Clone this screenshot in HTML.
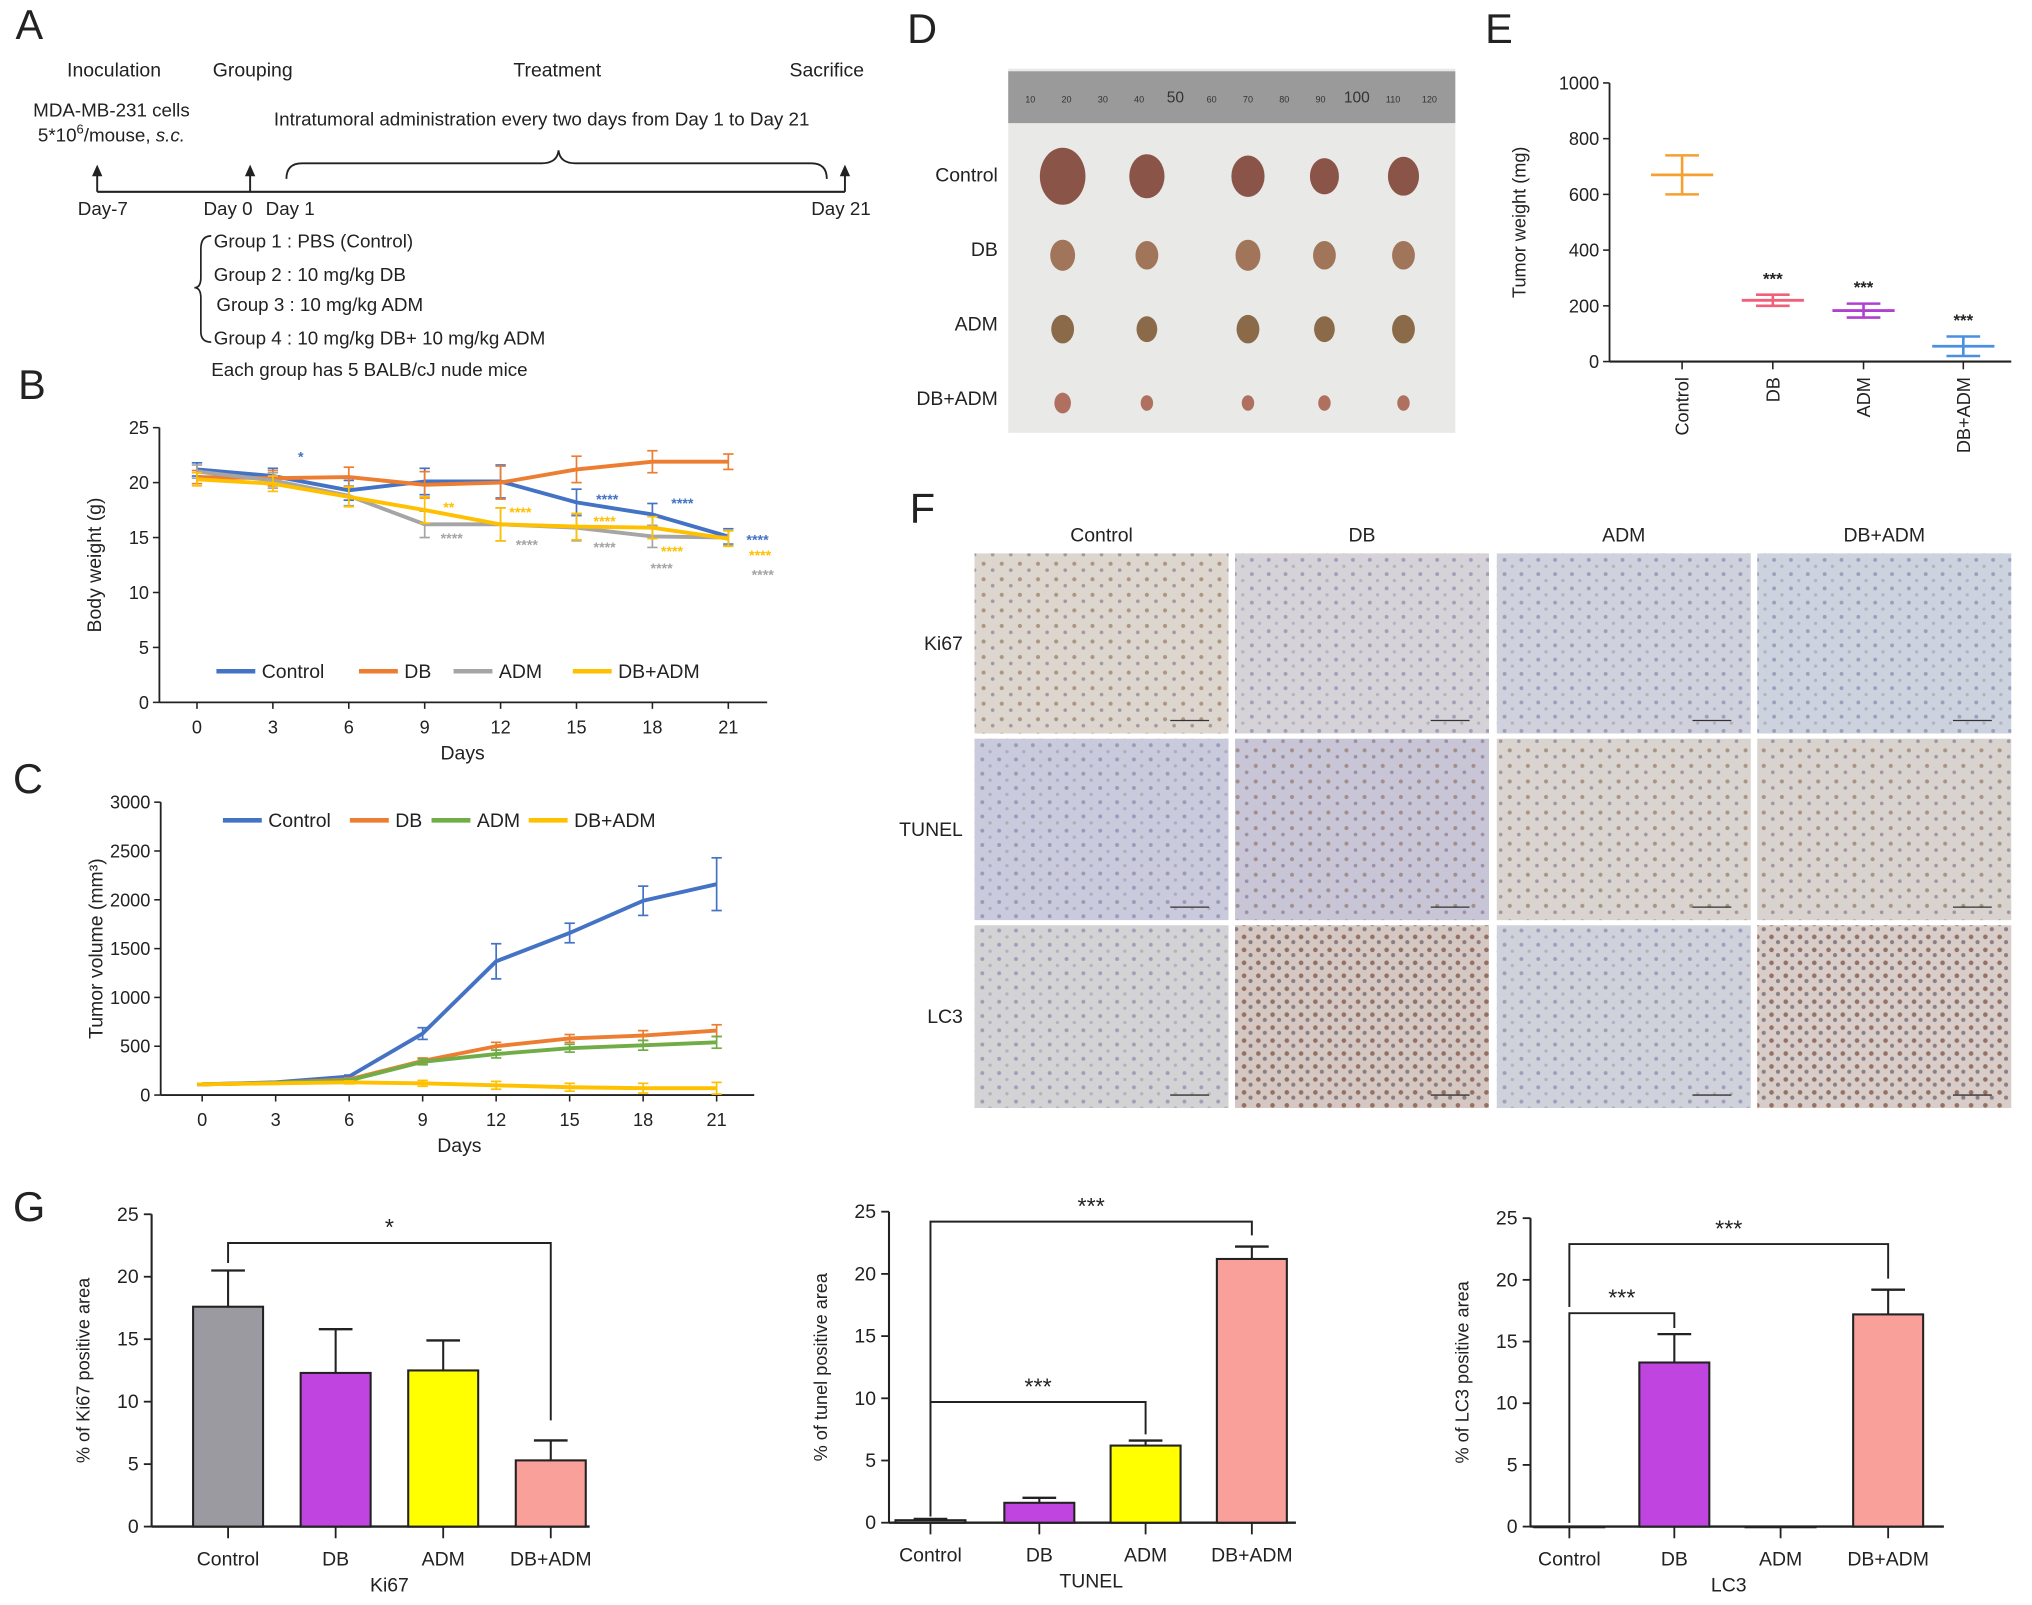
<!DOCTYPE html>
<html><head><meta charset="utf-8">
<style>
html,body{margin:0;padding:0;background:#fff;}
svg{display:block;font-family:"Liberation Sans",sans-serif;}
</style></head>
<body>
<svg id="fig" width="2032" height="1605" viewBox="0 0 1568 1238.5" preserveAspectRatio="none" xmlns="http://www.w3.org/2000/svg">
<defs>
<pattern id="dotsBrown" width="14" height="12" patternUnits="userSpaceOnUse"><circle cx="3" cy="3" r="1.6" fill="#8a6a50" opacity="0.6"/><circle cx="10" cy="8" r="1.4" fill="#6a5a70" opacity="0.5"/></pattern>
<pattern id="dotsBlue" width="13" height="11" patternUnits="userSpaceOnUse"><circle cx="4" cy="3" r="1.5" fill="#6a6a9a" opacity="0.5"/><circle cx="10" cy="8" r="1.3" fill="#8a7a9a" opacity="0.4"/></pattern>
<pattern id="dotsDark" width="11" height="10" patternUnits="userSpaceOnUse"><circle cx="3" cy="3" r="1.8" fill="#7a4a3a" opacity="0.7"/><circle cx="8" cy="7" r="1.6" fill="#5a4a5a" opacity="0.6"/></pattern>
</defs>
<g id="root"></g>
</svg>
<script>
// ---------- data ----------
const days = [0,3,6,9,12,15,18,21];
const groupsB = ["Control","DB","ADM","DB+ADM"];
const bwControl = [21.2,20.6,19.3,20.1,20.1,18.2,17.1,15.1];
const bwDB = [20.5,20.4,20.5,19.8,20.0,21.2,21.9,21.9];
const bwADM = [21.0,20.2,18.8,16.2,16.2,15.9,15.1,15.0];
const bwDBADM = [20.3,19.9,18.7,17.5,16.2,16.0,15.9,14.9];
const bwErr = [0.6,0.7,0.9,1.2,1.5,1.2,1.0,0.7];
const bwTicks = [0,5,10,15,20,25];
const tvControl = [110,130,190,630,1370,1660,1990,2160];
const tvDB = [110,125,160,350,500,580,610,660];
const tvADM = [110,125,150,340,420,480,510,540];
const tvDBADM = [110,120,130,120,100,80,70,70];
const tvErrControl = [10,10,15,60,180,100,150,270];
const tvErrOther = [10,10,15,30,40,40,50,60];
const tvTicks = [0,500,1000,1500,2000,2500,3000];
const twCats = ["Control","DB","ADM","DB+ADM"];
const twMeans = [670,220,183,55];
const twSd = [70,20,25,35];
const twTicks = [0,200,400,600,800,1000];
const gCats = ["Control","DB","ADM","DB+ADM"];
const ki67Vals = [17.6,12.3,12.5,5.3];
const ki67Err = [2.9,3.5,2.4,1.6];
const tunelVals = [0.2,1.6,6.2,21.2];
const tunelErr = [0.1,0.4,0.4,1.0];
const lc3Vals = [0,13.3,0,17.2];
const lc3Err = [0,2.3,0,2.0];
const gTicks = [0,5,10,15,20,25];

// ---------- helpers ----------
const NS="http://www.w3.org/2000/svg";
const root=document.getElementById('root');
function mk(tag,attrs,parent,text){const e=document.createElementNS(NS,tag);for(const k in attrs)e.setAttribute(k,attrs[k]);if(text!==undefined)e.textContent=text;(parent||root).appendChild(e);return e;}
function T(x,y,s,size,anchor,parent,extra){const e=mk('text',Object.assign({x:x,y:y,'font-size':size||14,'text-anchor':anchor||'start',fill:'#222'},extra||{}),parent,s);return e;}
function L(x1,y1,x2,y2,st,w,parent){return mk('line',{x1,y1,x2,y2,stroke:st||'#222','stroke-width':w||1.5},parent);}

// panel letters
[["A",12,30],["B",14,308],["C",10,612],["D",700,33],["E",1146,33],["F",702,403],["G",10,942]].forEach(p=>{
 const t=T(p[1],p[2],p[0],32,'start');
 
 
});

// ---------- Panel A ----------
const gA=mk('g',{},root);


T(88,59,"Inoculation",15,'middle',gA);T(195,59,"Grouping",15,'middle',gA);
T(430,59,"Treatment",15,'middle',gA);T(638,59,"Sacrifice",15,'middle',gA);
T(86,90,"MDA-MB-231 cells",14.5,'middle',gA);
const t5=T(86,109,"5*10",14.5,'middle',gA);
T(418,97,"Intratumoral administration every two days from Day 1 to Day 21",14.5,'middle',gA);
mk('tspan',{dy:-6,'font-size':10},t5,"6");mk('tspan',{dy:6},t5,"/mouse, ");mk('tspan',{'font-style':'italic'},t5,"s.c.");
L(75,148,652,148,'#222',1.6,gA);
[75,193,652].forEach(x=>{L(x,148,x,132,'#222',1.5,gA);mk('path',{d:`M${x-4} 136 L${x} 127 L${x+4} 136 Z`,fill:'#222'},gA);});
mk('path',{d:"M221 138 Q221 126 233 126 L418 126 Q430 126 431 116 Q432 126 444 126 L626 126 Q638 126 638 138",fill:'none',stroke:'#222','stroke-width':1.4},gA);
T(60,166,"Day-7",14.5,'start',gA);T(157,166,"Day 0",14.5,'start',gA);T(205,166,"Day 1",14.5,'start',gA);T(626,166,"Day 21",14.5,'start',gA);
mk('path',{d:"M163 182 Q155 182 155 192 L155 214 Q155 222 150 222 Q155 222 155 230 L155 256 Q155 264 163 264",fill:'none',stroke:'#222','stroke-width':1.3},gA);
T(165,191,"Group 1 : PBS (Control)",14.5,'start',gA);T(165,217,"Group 2 : 10 mg/kg DB",14.5,'start',gA);
T(167,240,"Group 3 : 10 mg/kg ADM",14.5,'start',gA);T(165,266,"Group 4 : 10 mg/kg DB+ 10 mg/kg ADM",14.5,'start',gA);
T(163,290,"Each group has 5 BALB/cJ nude mice",14.5,'start',gA);

// ---------- line chart helper ----------
function lineChart(cfg){
 const g=mk('g',{},root);
 
 
 const xs=d=>cfg.x0+(d-cfg.dmin)/(cfg.dmax-cfg.dmin)*(cfg.x1-cfg.x0);
 const ys=v=>cfg.y0-(v-cfg.vmin)/(cfg.vmax-cfg.vmin)*(cfg.y0-cfg.y1);
 L(cfg.ax,ys(cfg.vmin),cfg.ax,ys(cfg.vmax),'#222',1.4,g);
 L(cfg.ax,ys(cfg.vmin),cfg.axEnd,ys(cfg.vmin),'#222',1.4,g);
 cfg.ticks.forEach(t=>{L(cfg.ax-5,ys(t),cfg.ax,ys(t),'#222',1.2,g);T(cfg.ax-8,ys(t)+5,String(t),14,'end',g);});
 days.forEach(d=>{L(xs(d),ys(cfg.vmin),xs(d),ys(cfg.vmin)+5,'#222',1.2,g);T(xs(d),ys(cfg.vmin)+24,String(d),14,'middle',g);});
 T((cfg.x0+cfg.x1)/2,ys(cfg.vmin)+44,"Days",15,'middle',g);
 const yl=T(0,0,cfg.ylabel,15,'middle',g);yl.setAttribute('transform',`translate(${cfg.ax-45},${(ys(cfg.vmin)+ys(cfg.vmax))/2}) rotate(-90)`);
 cfg.series.forEach((s,i)=>{
  const sg=mk('g',{},g);
  
  
  s.vals.forEach((v,j)=>{const e=s.err[j];if(e>0){const x=xs(days[j]);L(x,ys(v-e),x,ys(v+e),s.color,1.3,sg);L(x-4,ys(v+e),x+4,ys(v+e),s.color,1.3,sg);L(x-4,ys(v-e),x+4,ys(v-e),s.color,1.3,sg);}});
  const p=mk('polyline',{points:s.vals.map((v,j)=>xs(days[j])+','+ys(v)).join(' '),fill:'none',stroke:s.color,'stroke-width':3,'stroke-linejoin':'round'},sg);
  
  
 });
 // legend
 const lg=mk('g',{},g);
 
 
 cfg.legend.forEach((le,i)=>{L(le[0],cfg.ly,le[0]+30,cfg.ly,cfg.series[i].color,3.5,lg);T(le[0]+35,cfg.ly+5,cfg.series[i].label,15,'start',lg);});
 return {g,xs,ys};
}
const blue="#4472c4",orange="#ed7d31",gray="#a5a5a5",gold="#ffc000",green="#70ad47";
const B=lineChart({name:'panel-b-body-weight-chart',x0:152,x1:562,dmin:0,dmax:21,y0:542,y1:330,vmin:0,vmax:25,ax:123,axEnd:592,ticks:bwTicks,ylabel:"Body weight (g)",ly:518,
 legend:[[167],[277],[350],[442]],
 series:[{key:'control',label:'Control',vals:bwControl,err:bwErr,color:blue},{key:'db',label:'DB',vals:bwDB,err:bwErr,color:orange},{key:'adm',label:'ADM',vals:bwADM,err:bwErr,color:gray},{key:'db-adm',label:'DB+ADM',vals:bwDBADM,err:bwErr,color:gold}]});
// significance stars in B
[[230,356,"*",blue],[460,389,"****",blue],[518,392,"****",blue],[576,420,"****",blue],[342,395,"**",gold],[393,399,"****",gold],[458,406,"****",gold],[510,429,"****",gold],[578,432,"****",gold],
 [340,419,"****",gray],[398,424,"****",gray],[458,426,"****",gray],[502,442,"****",gray],[580,447,"****",gray]].forEach(s=>T(s[0],s[1],s[2],11,'start',B.g,{fill:s[3],'font-weight':'bold'}));

const C=lineChart({name:'panel-c-tumor-volume-chart',x0:156,x1:553,dmin:0,dmax:21,y0:845,y1:619,vmin:0,vmax:3000,ax:124,axEnd:582,ticks:tvTicks,ylabel:"Tumor volume (mm³)",ly:633,
 legend:[[172],[270],[333],[408]],
 series:[{key:'control',label:'Control',vals:tvControl,err:tvErrControl,color:blue},{key:'db',label:'DB',vals:tvDB,err:tvErrOther,color:orange},{key:'adm',label:'ADM',vals:tvADM,err:tvErrOther,color:green},{key:'db-adm',label:'DB+ADM',vals:tvDBADM,err:tvErrOther,color:gold}]});

// ---------- Panel D photo ----------
const gD=mk('g',{},root);


mk('rect',{x:778,y:53,width:345,height:281,fill:'#e9e9e7'},gD);
mk('rect',{x:778,y:55,width:345,height:40,fill:'#9a9a9a'},gD);
for(let i=0;i<12;i++){T(795+i*28,79,String(10+i*10),i==4||i==9?12:7,'middle',gD,{fill:'#333'});}
["Control","DB","ADM","DB+ADM"].forEach((r,i)=>{T(770,140+i*57.5,r,15,'end',gD);});
const tumorX=[820,885,963,1022,1083];
const tumorSizes=[[22,17,16,14,15],[12,11,12,11,11],[11,10,11,10,11],[8,6,6,6,6]];
const tumorCol=["#8a5548","#a0755a","#8a6a48","#b07060"];
tumorSizes.forEach((row,i)=>row.forEach((s,j)=>{mk('ellipse',{cx:tumorX[j],cy:140+i*57-(i==0?4:0),rx:s*0.8,ry:s,fill:tumorCol[i]},gD);}));

// ---------- Panel E ----------
const gE=mk('g',{},root);


const eY=v=>279-v/1000*215;const eX=[1298,1368,1438,1515];const eCol=["#f5a030","#f0607a","#b040d0","#4a90e0"];
L(1242,eY(0),1242,eY(1000),'#222',1.4,gE);L(1242,eY(0),1552,eY(0),'#222',1.6,gE);
twTicks.forEach(t=>{L(1237,eY(t),1242,eY(t),'#222',1.2,gE);T(1234,eY(t)+5,String(t),14,'end',gE);});
const eyl=T(0,0,"Tumor weight (mg)",14,'middle',gE);eyl.setAttribute('transform',`translate(1177,${eY(500)}) rotate(-90)`);
twCats.forEach((c,i)=>{
 const x=eX[i];L(x,eY(0),x,eY(0)+6,'#222',1.2,gE);
 const lt=T(0,0,c,14,'end',gE);lt.setAttribute('transform',`translate(${x+5},${eY(0)+12}) rotate(-90)`);
 const m=mk('g',{},gE);
 
 
 L(x-24,eY(twMeans[i]),x+24,eY(twMeans[i]),eCol[i],2.2,m);
 L(x,eY(twMeans[i]-twSd[i]),x,eY(twMeans[i]+twSd[i]),eCol[i],2,m);
 L(x-13,eY(twMeans[i]+twSd[i]),x+13,eY(twMeans[i]+twSd[i]),eCol[i],2,m);
 L(x-13,eY(twMeans[i]-twSd[i]),x+13,eY(twMeans[i]-twSd[i]),eCol[i],2,m);
 if(i>0)T(x,eY(twMeans[i]+twSd[i])-8,"***",13,'middle',gE,{'font-weight':'bold'});
});

// ---------- Panel F ----------
const gF=mk('g',{},root);


const fCols=[[752,196],[953,196],[1155,196],[1356,196]];const fRows=[[427,139],[570,140],[714,141]];
["Control","DB","ADM","DB+ADM"].forEach((c,i)=>T(fCols[i][0]+98,418,c,15,'middle',gF));
["Ki67","TUNEL","LC3"].forEach((r,i)=>T(743,fRows[i][0]+fRows[i][1]/2+5,r,15,'end',gF));
const fBg=[["#ddd6cf","#d6d3d8","#cfd2dc","#cdd3de"],["#c9cadb","#c8c6d6","#d9d4d0","#d8d3cf"],["#d3d2d4","#d5c8c2","#cfd2db","#d8cdc8"]];
const fPat=[["dotsBrown","dotsBlue","dotsBlue","dotsBlue"],["dotsBlue","dotsBrown","dotsBrown","dotsBrown"],["dotsBlue","dotsDark","dotsBlue","dotsDark"]];
fRows.forEach((r,i)=>fCols.forEach((c,j)=>{
 const cell=mk('g',{},gF);
 
 
 mk('rect',{x:c[0],y:r[0],width:c[1],height:r[1],fill:fBg[i][j]},cell);
 mk('rect',{x:c[0],y:r[0],width:c[1],height:r[1],fill:`url(#${fPat[i][j]})`},cell);
 L(c[0]+c[1]-45,r[0]+r[1]-10,c[0]+c[1]-15,r[0]+r[1]-10,'#333',1,cell);
}));

// ---------- Panel G bar charts ----------
function barChart(cfg){
 const g=mk('g',{},root);
 
 
 const ys=v=>cfg.y0-v/25*(cfg.y0-cfg.y25);
 L(cfg.ax,ys(0),cfg.ax,ys(25),'#222',1.6,g);L(cfg.ax,ys(0),cfg.axEnd,ys(0),'#222',1.8,g);
 gTicks.forEach(t=>{L(cfg.ax-6,ys(t),cfg.ax,ys(t),'#222',1.4,g);T(cfg.ax-10,ys(t)+5,String(t),15,'end',g);});
 const yl=T(0,0,cfg.ylabel,14,'middle',g);yl.setAttribute('transform',`translate(${cfg.ax-48},${ys(12.5)}) rotate(-90)`);
 const cols=["#9a9aa0","#c045e0","#ffff00","#f9a09a"];
 gCats.forEach((c,i)=>{
  const x=cfg.cx[i];L(x,ys(0),x,ys(0)+9,'#222',1.4,g);T(x,ys(0)+30,c,15,'middle',g);
  const v=cfg.vals[i],e=cfg.err[i];
  if(e>0){L(x,ys(v),x,ys(v+e),'#222',1.6,g);L(x-13,ys(v+e),x+13,ys(v+e),'#222',1.8,g);}
  const b=mk('rect',{x:x-27,y:ys(v),width:54,height:Math.max(ys(0)-ys(v),0.5),fill:cols[i],stroke:'#222','stroke-width':1.6},g);
  
  
 });
 T((cfg.cx[0]+cfg.cx[3])/2,ys(0)+50,cfg.xlabel,15,'middle',g);
 cfg.brackets.forEach(br=>{const x1=cfg.cx[br[0]],x2=cfg.cx[br[1]],y=ys(br[2]);
  mk('polyline',{points:`${x1},${ys(br[3])} ${x1},${y} ${x2},${y} ${x2},${ys(br[4])}`,fill:'none',stroke:'#222','stroke-width':1.5},g);
  T((x1+x2)/2,y-6,br[5],18,'middle',g);});
}
barChart({name:'panel-g-ki67-chart',ax:117,axEnd:455,y0:1178,y25:937,cx:[176,259,342,425],vals:ki67Vals,err:ki67Err,ylabel:"% of Ki67 positive area",xlabel:"Ki67",brackets:[[0,3,22.7,21.1,8.5,"*"]]});
barChart({name:'panel-g-tunel-chart',ax:686,axEnd:1000,y0:1175,y25:935,cx:[718,802,884,966],vals:tunelVals,err:tunelErr,ylabel:"% of tunel positive area",xlabel:"TUNEL",brackets:[[0,2,9.7,0.5,7.1,"***"],[0,3,24.2,0.8,23.1,"***"]]});
barChart({name:'panel-g-lc3-chart',ax:1181,axEnd:1500,y0:1178,y25:940,cx:[1211,1292,1374,1457],vals:lc3Vals,err:lc3Err,ylabel:"% of LC3 positive area",xlabel:"LC3",brackets:[[0,1,17.3,0.3,16.1,"***"],[0,3,22.9,17.8,20.1,"***"]]});
</script>
</body></html>
